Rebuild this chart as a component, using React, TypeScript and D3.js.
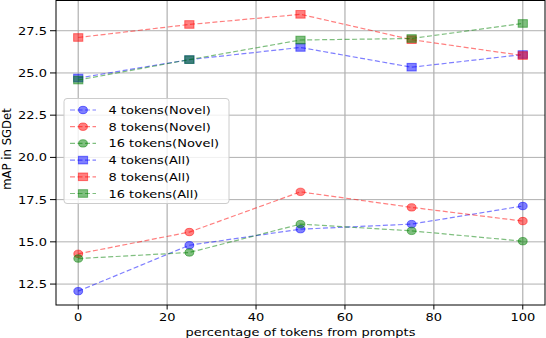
import React from "react";
import * as d3 from "d3";

// percentage of tokens taken from prompts
const percents = [0, 25, 50, 75, 100];
// mAP in SGDet, novel classes
const novel4 = [12.08, 14.8, 15.75, 16.05, 17.12];
const novel8 = [14.29, 15.58, 17.96, 17.04, 16.23];
const novel16 = [14.01, 14.37, 16.05, 15.65, 15.04];
// mAP in SGDet, all classes
const all4 = [24.7, 25.79, 26.51, 25.34, 26.09];
const all8 = [27.1, 27.87, 28.47, 26.97, 26.03];
const all16 = [24.58, 25.79, 26.95, 27.04, 27.93];

const xTicks = [0, 20, 40, 60, 80, 100];
const yTicks = [12.5, 15.0, 17.5, 20.0, 22.5, 25.0, 27.5];

const seriesNames = [
  "4 tokens(Novel)",
  "8 tokens(Novel)",
  "16 tokens(Novel)",
  "4 tokens(All)",
  "8 tokens(All)",
  "16 tokens(All)",
];
const seriesValues = [novel4, novel8, novel16, all4, all8, all16];
const seriesColors = ["#0000ff", "#ff0000", "#008000", "#0000ff", "#ff0000", "#008000"];
const seriesMarkers = ["circle", "circle", "circle", "square", "square", "square"];

const W = 546;
const H = 338;
const plot = { left: 56, right: 545, top: 0.5, bottom: 305 };
const SX = 1.18; // picture is stretched sideways
const FONT = "DejaVu Sans, sans-serif";

function Marker({ shape, cx, cy, color }) {
  if (shape === "circle") {
    return (
      <ellipse cx={cx} cy={cy} rx={4.4} ry={3.7} fill={color} fillOpacity={0.5}
        stroke={color} strokeOpacity={0.5} strokeWidth={1} />
    );
  }
  return (
    <rect x={cx - 4.6} y={cy - 3.8} width={9.2} height={7.6} fill={color} fillOpacity={0.5}
      stroke={color} strokeOpacity={0.5} strokeWidth={1} />
  );
}

function Label({ x, y, anchor = "start", size = 11, sx = SX, rotate = 0, children }) {
  const tf = `translate(${x},${y}) scale(${sx},1)` + (rotate ? ` rotate(${rotate})` : "");
  return (
    <text transform={tf} textAnchor={anchor} fontFamily={FONT} fontSize={size} fill="#000">
      {children}
    </text>
  );
}

export default function App() {
  const x = d3.scaleLinear().domain([-5, 105]).range([plot.left, plot.right]);
  const allVals = seriesValues.flat();
  const [lo, hi] = d3.extent(allVals) as [number, number];
  const pad = (hi - lo) * 0.05;
  const y = d3.scaleLinear().domain([lo - pad, hi + pad]).range([plot.bottom, plot.top]);

  const line = d3
    .line<number>()
    .x((d, i) => x(percents[i]))
    .y((d) => y(d));

  const legendRows = [110, 126.7, 143.4, 160.1, 176.8, 193.5];

  return (
    <svg width={W} height={H} style={{ position: "absolute", left: 0, top: 0, background: "#fff" }}>
      {/* grid */}
      {xTicks.map((t) => (
        <line key={"gx" + t} x1={x(t)} x2={x(t)} y1={plot.top} y2={plot.bottom} stroke="#b0b0b0" strokeWidth={1.2} />
      ))}
      {yTicks.map((t) => (
        <line key={"gy" + t} x1={plot.left} x2={plot.right} y1={y(t)} y2={y(t)} stroke="#b0b0b0" strokeWidth={1} />
      ))}

      {/* series */}
      {seriesValues.map((vals, s) => (
        <g key={seriesNames[s]}>
          <path d={line(vals) || ""} fill="none" stroke={seriesColors[s]} strokeOpacity={0.5}
            strokeWidth={1.2} strokeDasharray="5,2.5" />
          {vals.map((v, i) => (
            <Marker key={i} shape={seriesMarkers[s]} cx={x(percents[i])} cy={y(v)} color={seriesColors[s]} />
          ))}
        </g>
      ))}

      {/* frame */}
      <rect x={plot.left} y={plot.top} width={plot.right - plot.left} height={plot.bottom - plot.top}
        fill="none" stroke="#000" strokeWidth={1} />

      {/* ticks */}
      {xTicks.map((t) => (
        <g key={"tx" + t}>
          <line x1={x(t)} x2={x(t)} y1={plot.bottom} y2={plot.bottom + 4.5} stroke="#000" strokeWidth={1} />
          <Label x={x(t)} y={320.5} anchor="middle">{String(t)}</Label>
        </g>
      ))}
      {yTicks.map((t) => (
        <g key={"ty" + t}>
          <line x1={plot.left - 6} x2={plot.left} y1={y(t)} y2={y(t)} stroke="#000" strokeWidth={1} />
          <Label x={47} y={y(t) + 4} anchor="end">{t.toFixed(1)}</Label>
        </g>
      ))}

      {/* axis labels */}
      <Label x={(plot.left + plot.right) / 2} y={335.5} anchor="middle">percentage of tokens from prompts</Label>
      <Label x={10.5} y={149} anchor="middle" size={11.7} sx={1.1} rotate={-90}>mAP in SGDet</Label>

      {/* legend */}
      <rect x={64} y={98.5} width={165} height={105} rx={3} fill="#fff" fillOpacity={0.8}
        stroke="#cccccc" strokeWidth={1} />
      {seriesNames.map((name, s) => (
        <g key={"lg" + name}>
          <line x1={70} x2={96} y1={legendRows[s]} y2={legendRows[s]} stroke={seriesColors[s]}
            strokeOpacity={0.5} strokeWidth={1.2} strokeDasharray="5,2.5" />
          <Marker shape={seriesMarkers[s]} cx={83} cy={legendRows[s]} color={seriesColors[s]} />
          <Label x={108.5} y={legendRows[s] + 4}>{name}</Label>
        </g>
      ))}
    </svg>
  );
}
